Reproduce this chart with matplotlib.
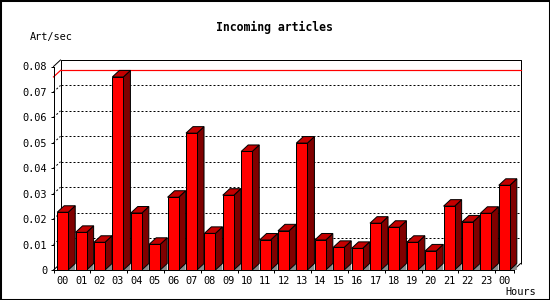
import matplotlib
matplotlib.use("Agg")
import matplotlib.pyplot as plt
from matplotlib.patches import Rectangle, Polygon
from matplotlib.ticker import FixedLocator

# ---- data ----
hours = ["00", "01", "02", "03", "04", "05", "06", "07", "08", "09", "10", "11",
         "12", "13", "14", "15", "16", "17", "18", "19", "20", "21", "22", "23", "00"]
rates = [0.0227, 0.0148, 0.0109, 0.0759, 0.0224, 0.0101, 0.0286, 0.0538, 0.0144,
         0.0294, 0.0466, 0.0118, 0.0154, 0.0499, 0.0118, 0.0089, 0.0085, 0.0184,
         0.0168, 0.0109, 0.0075, 0.0251, 0.0189, 0.0223, 0.0333]
yticks = [0, 0.01, 0.02, 0.03, 0.04, 0.05, 0.06, 0.07, 0.08]
ytick_labels = ["0", "0.01", "0.02", "0.03", "0.04", "0.05", "0.06", "0.07", "0.08"]
title = "Incoming articles"
ylabel = "Art/sec"
xlabel = "Hours"

# ---- style ----
FONT = "DejaVu Sans Mono"
FRONT = "#ff0000"
TOP = "#c40000"
SIDE = "#800000"
SHADOW = "#8c8c8c"
LW = 0.72  # 1 px
DEPTH_X_PX = 7.0
DEPTH_Y_PX = 6.5
BAR_W = 0.6

W, H = 550, 300
fig = plt.figure(figsize=(W / 100, H / 100), dpi=100)
fig.patch.set_facecolor("white")
x0, x1 = 53.5, 513.5
yb, yt = 270.0, 66.5
ax = fig.add_axes([x0 / W, (H - yb) / H, (x1 - x0) / W, (yb - yt) / H])
n = len(rates)
ax.set_xlim(-0.5, n - 0.5)
ax.set_ylim(yticks[0], yticks[-1])
ax.patch.set_alpha(0)

# depth offsets in data units, from the axes' own scale
p0 = ax.transData.transform((0, 0))
p1 = ax.transData.transform((1, 0.01))
ddx = DEPTH_X_PX / (p1[0] - p0[0])
ddy = DEPTH_Y_PX / ((p1[1] - p0[1]) / 0.01)

xl, xr = -0.5, n - 0.5
ytop = yticks[-1]

# back wall outline
ax.plot([xl + ddx, xl + ddx, xr + ddx, xr + ddx],
        [ddy, ytop + ddy, ytop + ddy, ddy],
        color="black", lw=LW, clip_on=False, zorder=1, solid_capstyle="butt")
# connecting diagonals
for (xa, ya) in [(xl, ytop), (xr, 0), (xl, 0)]:
    ax.plot([xa, xa + ddx], [ya, ya + ddy], color="black", lw=LW,
            clip_on=False, zorder=1)

# dotted grid on back wall + side wall
for v in yticks[1:-1]:
    ax.plot([xl + ddx, xr + ddx], [v + ddy, v + ddy], color="black", lw=LW,
            linestyle=(0, (2, 2)), clip_on=False, zorder=1.2)
    ax.plot([xl, xl + ddx], [v, v + ddy], color="black", lw=LW,
            linestyle=(0, (2, 2)), clip_on=False, zorder=1.2)

# max line
vmax = max(rates)
ax.plot([xl + ddx, xr + ddx], [vmax + ddy, vmax + ddy], color=FRONT, lw=LW * 1.2,
        clip_on=False, zorder=1.4)
ax.plot([xl, xl + ddx], [vmax, vmax + ddy], color=FRONT, lw=LW * 1.2,
        clip_on=False, zorder=1.4)

# bars
for i, v in enumerate(rates):
    l, r = i - BAR_W / 2, i + BAR_W / 2
    ax.add_patch(Polygon([(r, 0), (r + ddx, ddy), (r + ddx, 0)], closed=True,
                         facecolor=SHADOW, edgecolor="none", zorder=2.8, clip_on=False))
    ax.add_patch(Polygon([(r, 0), (r + ddx, ddy), (r + ddx, v + ddy), (r, v)],
                         closed=True, facecolor=SIDE, edgecolor="black", lw=LW,
                         zorder=3, clip_on=False, joinstyle="miter"))
    ax.add_patch(Polygon([(l, v), (r, v), (r + ddx, v + ddy), (l + ddx, v + ddy)],
                         closed=True, facecolor=TOP, edgecolor="black", lw=LW,
                         zorder=3, clip_on=False, joinstyle="miter"))
    ax.add_patch(Rectangle((l, 0), BAR_W, v, facecolor=FRONT, edgecolor="black",
                           lw=LW, zorder=3.1, clip_on=False, joinstyle="miter"))

# axes / ticks
for s in ["top", "right"]:
    ax.spines[s].set_visible(False)
for s in ["left", "bottom"]:
    ax.spines[s].set_linewidth(LW)
    ax.spines[s].set_zorder(3.2)

ax.set_yticks(yticks)
ax.set_yticklabels(ytick_labels, fontfamily=FONT, fontsize=7.4)
ax.tick_params(axis="y", direction="out", length=2.2, width=LW, pad=2.3)

ax.set_xticks(range(n))
ax.set_xticklabels(hours, fontfamily=FONT, fontsize=7.4)
ax.tick_params(axis="x", which="major", length=0, pad=4.3)
ax.xaxis.set_minor_locator(FixedLocator([xl + 2 * k for k in range(n // 2 + 1)] + [xr]))
ax.tick_params(axis="x", which="minor", direction="out", length=2.4, width=LW)

# texts
fig.text(274 / W, 1 - 27 / H, title, fontfamily=FONT, fontweight="bold",
         fontsize=8.3, ha="center", va="center")
fig.text(30 / W, 1 - 37 / H, ylabel, fontfamily=FONT, fontsize=7.4,
         ha="left", va="center")
fig.text(505 / W, 1 - 292 / H, xlabel, fontfamily=FONT, fontsize=7.4,
         ha="left", va="center")

# figure border
fig.patches.append(Rectangle((0, 0), 1, 1, transform=fig.transFigure, fill=False,
                             edgecolor="black", lw=2.2, zorder=10))

fig.savefig("out.png", dpi=100)
